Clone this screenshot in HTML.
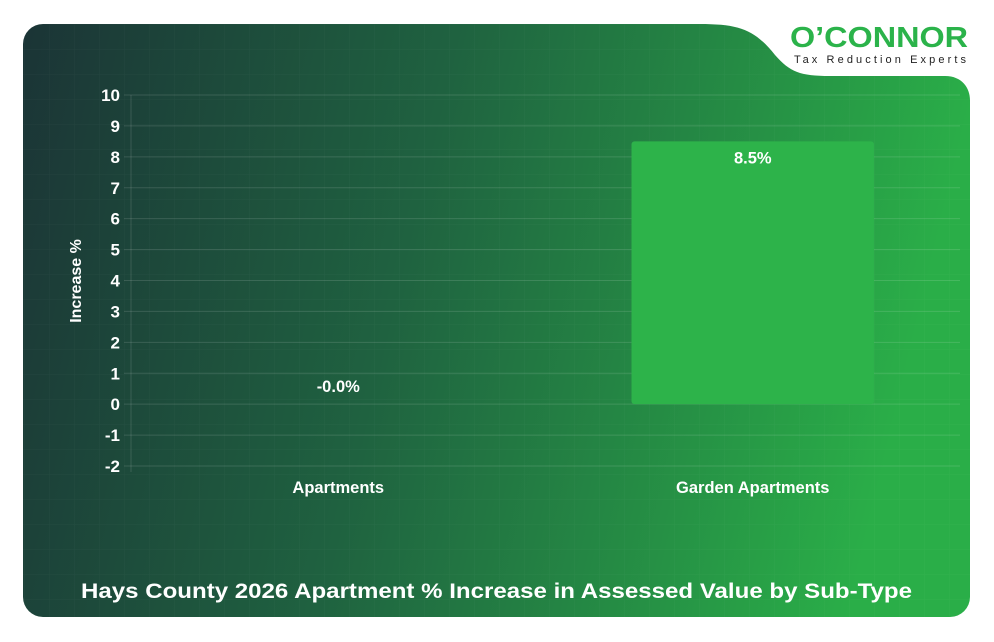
<!DOCTYPE html>
<html><head><meta charset="utf-8"><style>
html,body{margin:0;padding:0;background:#fff;width:994px;height:642px;overflow:hidden}
svg{display:block;font-family:"Liberation Sans",Arial,sans-serif}
</style></head><body>
<svg width="994" height="642">
<defs>
<linearGradient id="bg" x1="0" y1="0" x2="1" y2="0.15">
<stop offset="0" stop-color="#1b3436"/><stop offset="0.45" stop-color="#1f6240"/><stop offset="1" stop-color="#2aae48"/>
</linearGradient>
<pattern id="grid" width="25" height="25" patternUnits="userSpaceOnUse"><path d="M25 0V25H0" fill="none" stroke="rgba(255,255,255,0.035)"/></pattern>
</defs>
<rect x="23" y="24" width="947" height="593" rx="20" fill="url(#bg)"/>
<rect x="23" y="24" width="947" height="593" rx="20" fill="url(#grid)"/>
<path d="M700 20 L700 24 C740 24 755 30 775 55 C790 72 800 76 830 76 L945 76 C962 76 970 88 970 100 L975 100 L975 20 Z" fill="#fff"/>
<g>
<text x="790" y="47" textLength="178" lengthAdjust="spacingAndGlyphs" font-size="29" font-weight="bold" fill="#2bb34a">O’CONNOR</text>
<text x="794" y="63" textLength="172" lengthAdjust="spacing" font-size="11" fill="#222">Tax Reduction Experts</text>
</g>
<g id="axes"></g>
<g id="marks"></g>
<text transform="translate(81,281) rotate(-90)" text-anchor="middle" font-size="16" font-weight="bold" fill="#fff">Increase %</text>
<text x="81" y="598" textLength="831" lengthAdjust="spacingAndGlyphs" font-size="21.5" font-weight="bold" fill="#fff">Hays County 2026 Apartment % Increase in Assessed Value by Sub-Type</text>
</svg>
<script>
const categories = ["Apartments", "Garden Apartments"];
const values = [-0.0, 8.5];
const valueLabels = ["-0.0%", "8.5%"];
const yTicks = [-2,-1,0,1,2,3,4,5,6,7,8,9,10];
const NS="http://www.w3.org/2000/svg";
const x0=131,x1=960,yTop=95,yBot=466,yMin=-2,yMax=10;
const y=v=>yBot-(v-yMin)/(yMax-yMin)*(yBot-yTop);
const band=(x1-x0)/categories.length;
const cx=i=>x0+band*(i+0.5);
function mk(t,a,p){const e=document.createElementNS(NS,t);for(const k in a)e.setAttribute(k,a[k]);p.appendChild(e);return e;}
const ax=document.getElementById('axes'),mg=document.getElementById('marks');
yTicks.forEach(v=>{
  const l=mk('line',{x1:124,x2:x1,y1:y(v),y2:y(v),stroke:'rgba(255,255,255,0.13)'},ax);
  
  
  const t=mk('text',{x:120,y:y(v)+6,'text-anchor':'end','font-size':17,'font-weight':'bold',fill:'#fff'},ax);
  t.textContent=v;
  
  
});
const al=mk('line',{x1:x0,x2:x0,y1:yTop,y2:yBot+6,stroke:'rgba(255,255,255,0.13)'},ax);


categories.forEach((c,i)=>{
  const t=mk('text',{x:cx(i),y:493,'text-anchor':'middle','font-size':16.5,'font-weight':'bold',fill:'#fff'},ax);
  t.textContent=c;
  
  
  const w=band*0.585,v=values[i];
  const top=Math.min(y(v),y(0)),h=Math.abs(y(v)-y(0));
  const r=mk('rect',{x:cx(i)-w/2,y:top,width:w,height:h,rx:3,fill:'#2db34a'},mg);
  
  
  const ly=h>20?top+22:y(0)-12;
  const lt=mk('text',{x:cx(i),y:ly,'text-anchor':'middle','font-size':16.5,'font-weight':'bold',fill:'#fff'},mg);
  lt.textContent=valueLabels[i];
  
  
});
</script>
</body></html>
